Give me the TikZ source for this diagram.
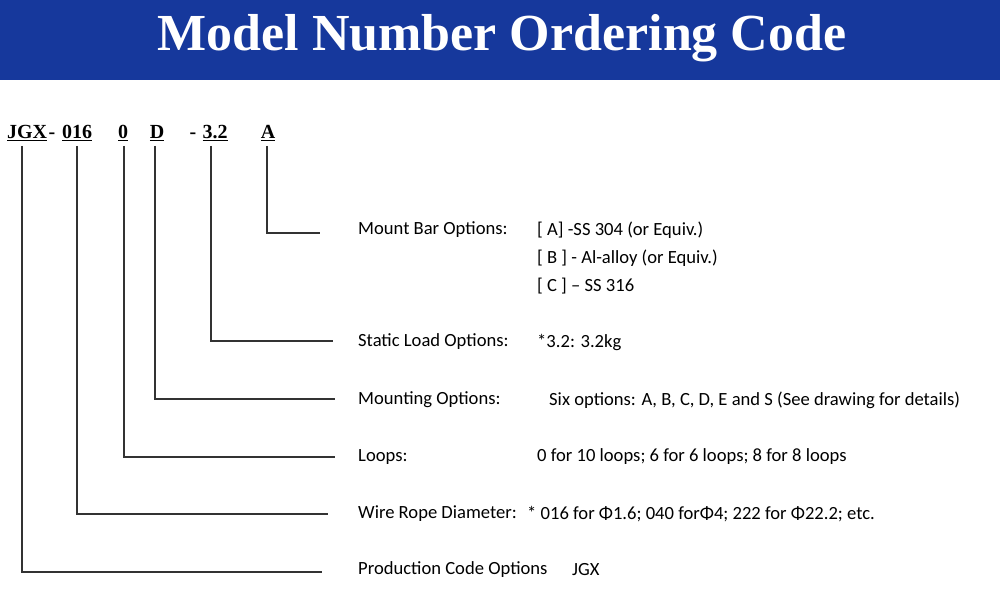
\documentclass[tikz,border=0pt]{standalone}
\usepackage{fontspec}
\setmainfont{Carlito}
\newfontfamily\codefont{Liberation Serif}
\begin{document}
\begin{tikzpicture}[x=1pt,y=-1pt,
  lbl/.style={anchor=west,inner sep=0,font=\fontsize{18.6}{22}\selectfont},
  code/.style={anchor=base,inner sep=0,font=\codefont\bfseries\fontsize{20}{22}\selectfont},
  ln/.style={line width=1.3pt,black!80}]
\useasboundingbox (0,0) rectangle (1000,609);
\fill[fill={rgb,255:red,22;green,56;blue,156}] (0,0) rectangle (1000,80);
\node[text=white,font=\codefont\bfseries\fontsize{52}{56}\selectfont] (title) at (502,38) {Model Number Ordering Code};
% code
\node[code] (c1) at (27,139) {\underline{JGX}};
\node[code] (d1) at (52,139) {-};
\node[code] (c2) at (77,139) {\underline{016}};
\node[code] (c3) at (123,139) {\underline{0}};
\node[code] (c4) at (157,139) {\underline{D}};
\node[code] (d2) at (193,139) {-};
\node[code] (c5) at (215,139) {\underline{3.2}};
\node[code] (c6) at (268,139) {\underline{A}};
\coordinate (t1) at (22,146); \coordinate (t2) at (77,146); \coordinate (t3) at (124,146);
\coordinate (t4) at (155,146); \coordinate (t5) at (211,146); \coordinate (t6) at (267,146);
\coordinate (e1) at (322,572); \coordinate (e2) at (328,514); \coordinate (e3) at (335,457);
\coordinate (e4) at (335,399); \coordinate (e5) at (333,341); \coordinate (e6) at (320,233);
\draw[ln] (t1) |- (e1); \draw[ln] (t2) |- (e2); \draw[ln] (t3) |- (e3);
\draw[ln] (t4) |- (e4); \draw[ln] (t5) |- (e5); \draw[ln] (t6) |- (e6);
% labels
\node[lbl] (l6) at (358,230) {Mount Bar Options:};
\node[lbl] (v6a) at (537,230) {[ A] -SS 304 (or Equiv.)};
\node[lbl] (v6b) at (537,258) {[ B ] - Al-alloy (or Equiv.)};
\node[lbl] (v6c) at (537,286) {[ C ] – SS 316};
\node[lbl] (l5) at (358,342) {Static Load Options:};
\node[lbl] (v5) at (537,342) {*3.2: 3.2kg};
\node[lbl] (l4) at (358,400) {Mounting Options:};
\node[lbl] (v4) at (549,400) {Six options: A, B, C, D, E and S (See drawing for details)};
\node[lbl] (l3) at (358,457) {Loops:};
\node[lbl] (v3) at (537,457) {0 for 10 loops; 6 for 6 loops; 8 for 8 loops};
\node[lbl] (l2) at (358,514) {Wire Rope Diameter:};
\node[lbl] (v2) at (527,514) {* 016 for Φ1.6; 040 forΦ4; 222 for Φ22.2; etc.};
\node[lbl] (l1) at (358,570) {Production Code Options};
\node[lbl] (v1) at (572,570) {JGX};
\end{tikzpicture}
\end{document}
